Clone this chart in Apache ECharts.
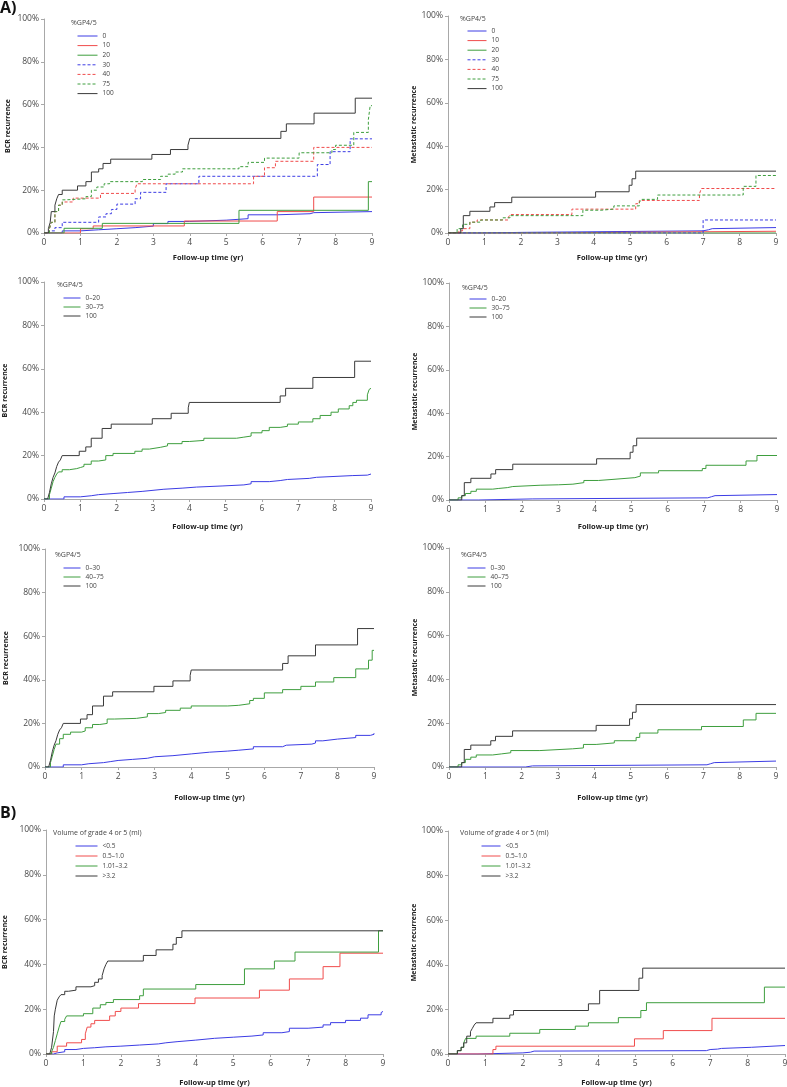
<!DOCTYPE html>
<html><head><meta charset="utf-8">
<script src="https://cdn.jsdelivr.net/npm/echarts@6/dist/echarts.min.js"></script>
<style>html,body{margin:0;padding:0;background:#fff}#c{width:787px;height:1087px}</style>
</head><body><div id="c"></div>
<script>
// ---------- DATA (time in years, cumulative % recurrence) ----------
const xTicks = [0,1,2,3,4,5,6,7,8,9];
const yTicks = [0,20,40,60,80,100];

// Panel A1: BCR by %GP4/5 (7 groups)
const a1_names = ['0','10','20','30','40','75','100'];
const a1_g0   = [[0,0],[0.5,1],[1.0,1.5],[1.5,2],[2.0,2.5],[2.5,3.2],[3.0,4.4],[3.4,5.4],[4.0,6],[5.0,6.7],[5.6,8.5],[6.4,9],[7.3,9.5],[7.4,10],[9,10]];
const a1_g10  = [[0,0],[1.0,2],[1.35,3.3],[3.85,5.6],[6.4,10],[7.4,16.8],[9,16.8]];
const a1_g20  = [[0,0],[0.55,2.2],[1.6,4.5],[5.35,10.6],[8.9,24],[9,24]];
const a1_g30  = [[0,0],[0.15,1],[0.3,2.5],[0.5,5],[1.5,7.5],[1.7,9],[1.85,11],[2.0,13.5],[2.5,16],[2.65,19],[3.35,23],[4.25,26.5],[7.5,32],[7.85,38],[8.4,44],[9,44]];
const a1_g40  = [[0,0],[0.15,2],[0.2,5],[0.3,10],[0.4,13],[0.5,14.5],[0.8,16.3],[1.55,18.5],[2.5,20.5],[2.55,23],[5.75,26.5],[6.05,30.5],[6.35,33.5],[7.4,40],[9,40]];
const a1_g75  = [[0,0],[0.15,2],[0.2,5],[0.3,10],[0.4,13],[0.5,15.5],[0.6,16],[1.15,17],[1.3,20],[1.45,21.5],[1.65,23],[1.8,24],[2.7,25],[3.2,26.5],[3.4,27.5],[3.6,28.5],[3.8,30],[5.35,31],[5.6,33],[6.05,35],[7.0,37.5],[7.9,39],[8.0,41],[8.5,47],[8.9,53],[8.95,59.5],[9,59.5]];
const a1_g100 = [[0,0],[0.12,2],[0.17,5],[0.2,10],[0.3,13],[0.35,16],[0.4,18],[0.5,20],[0.92,22],[1.15,24],[1.3,28.5],[1.5,30],[1.62,32.5],[1.83,34.5],[2.96,36.7],[3.47,39],[3.95,41],[4.0,44.2],[6.5,47.5],[6.65,51],[7.41,56],[8.54,63],[9,63]];

// Panel A2: Metastatic by %GP4/5 (7 groups)
const a2_g0   = [[0,0],[0.8,0.3],[2.1,1],[7.0,1.5],[7.15,2],[7.25,2.5],[9,2.5]];
const a2_g10  = [[0,0],[2.25,0.8],[9,0.8]];
const a2_g20  = [[0,0],[9,0]];
const a2_g30  = [[0,0],[7.0,6],[9,6]];
const a2_g40  = [[0,0],[0.3,1],[0.4,2],[0.6,5],[0.8,6],[1.65,7],[1.7,8.5],[3.4,11],[5.15,13.5],[5.25,15],[6.9,18],[6.95,20.5],[9,20.5]];
const a2_g75  = [[0,0],[0.25,2],[0.4,4],[0.6,5],[0.9,6],[1.5,7],[1.7,8],[3.7,10.5],[4.2,11],[4.55,12.5],[5.25,14],[5.3,15.5],[5.75,17.5],[8.1,21.5],[8.45,26.5],[9,26.5]];
const a2_g100 = [[0,0],[0.35,2],[0.42,8],[0.6,10],[1.15,12],[1.28,14],[1.75,16.5],[4.05,19],[4.97,22],[5.05,25],[5.15,28.5],[9,28.5]];

// Panel A3: BCR, 0–20 / 30–75 / 100
const a3_names = ['0\u201320','30\u201375','100'];
const a3_low  = [[0,0],[0.55,1],[1.0,1.5],[1.3,2],[1.5,2.5],[1.9,3],[2.3,3.5],[2.7,4],[3.0,4.5],[3.3,5],[3.8,5.5],[4.2,6],[4.9,6.5],[5.5,7],[5.7,8],[6.2,8.5],[6.5,9],[6.7,9.5],[7.3,10],[7.5,10.8],[8.5,11],[8.9,11.5],[9,11.5]];
const a3_mid  = [[0,0],[0.15,2],[0.2,5],[0.25,8],[0.3,10],[0.35,11.5],[0.4,12.5],[0.5,13.5],[0.7,14],[0.9,14.5],[1.0,15],[1.1,16],[1.3,17.5],[1.5,18],[1.7,20],[1.9,21],[2.5,22],[2.7,23],[2.9,23.8],[3.2,24.5],[3.4,25.5],[3.8,26.5],[4.0,27],[4.4,28],[5.3,28.5],[5.5,29],[5.7,30.5],[6.0,31.5],[6.2,33],[6.5,33.5],[6.7,34.5],[7.0,35.5],[7.4,37],[7.6,38.5],[7.9,40],[8.1,41.5],[8.4,43],[8.5,44.5],[8.6,45.5],[8.9,48],[8.95,50.5],[9,51]];
const a3_high = [[0,0],[0.1,0],[0.15,3],[0.2,7],[0.25,10],[0.3,12],[0.35,15],[0.4,17],[0.45,18],[0.5,20],[0.97,22],[1.15,24],[1.3,28],[1.6,32.5],[1.85,34.5],[2.98,37],[3.5,39.5],[3.97,42],[4.0,44.5],[6.5,47.5],[6.65,51],[7.4,56],[8.55,63.5],[9,63.5]];

// Panel A4: Metastatic, 0–20 / 30–75 / 100
const a4_low  = [[0,0],[0.8,0.5],[2.3,1],[7.1,1.5],[7.2,2],[7.3,2.5],[9,2.5]];
const a4_mid  = [[0,0],[0.25,1],[0.35,2],[0.45,3],[0.6,4],[0.75,5],[1.2,5.3],[1.35,5.7],[1.6,6.2],[1.75,6.8],[2.5,7],[3.0,7.3],[3.4,8],[3.7,9],[4.1,9.5],[4.5,10.3],[5.1,11],[5.25,12.5],[5.75,13.5],[6.95,14.5],[7.05,16],[8.15,18],[8.45,20.5],[9,20.5]];
const a4_high = [[0,0],[0.35,2],[0.42,8],[0.6,10],[1.15,12],[1.28,14],[1.75,16.5],[4.05,19],[4.97,22],[5.05,25],[5.15,28.5],[9,28.5]];

// Panel A5: BCR, 0–30 / 40–75 / 100
const a5_names = ['0\u201330','40\u201375','100'];
const a5_low  = [[0,0],[0.5,1],[1.0,1.5],[1.2,2],[1.6,2.5],[1.8,3],[2.0,3.5],[2.4,4],[2.8,4.7],[3.0,5.2],[3.5,6],[4.0,6.8],[4.5,7.3],[5.0,7.7],[5.3,8.3],[5.7,9.3],[6.5,10],[6.6,10.5],[7.3,11],[7.4,12],[7.6,12.8],[8.0,13.5],[8.5,14.5],[8.9,15],[9,15.5]];
const a5_mid  = [[0,0],[0.15,2],[0.2,5],[0.25,8],[0.3,10.5],[0.4,13],[0.5,15],[0.7,16],[1.0,16.5],[1.1,18],[1.3,19.5],[1.5,20],[1.7,22],[1.9,22.3],[2.5,23],[2.8,24.5],[3.1,25],[3.3,26],[3.7,27],[4.0,28],[5.0,28.3],[5.3,29],[5.6,30.5],[5.7,31.5],[6.0,34],[6.5,35.5],[7.0,37],[7.4,39],[7.9,41],[8.5,45],[8.85,49],[8.95,53.5],[9,53.5]];
const a5_high = [[0,0],[0.1,0],[0.15,3],[0.2,7],[0.25,10],[0.3,12],[0.35,15],[0.4,17],[0.45,18],[0.5,20],[0.97,22],[1.15,24],[1.3,28],[1.6,32.5],[1.85,34.5],[2.98,37],[3.5,39.5],[3.97,42],[4.0,44.5],[6.5,47.5],[6.65,51],[7.4,56],[8.55,63.5],[9,63.5]];

// Panel A6: Metastatic, 0–30 / 40–75 / 100
const a6_low  = [[0,0],[2.1,0.5],[2.3,1],[7.1,1.5],[7.2,2],[7.3,2.7],[9,2.7]];
const a6_mid  = [[0,0],[0.25,1],[0.35,2],[0.45,3.5],[0.6,4.5],[0.75,5.5],[1.2,6],[1.45,6.5],[1.7,7.5],[2.5,8.3],[3.4,8.7],[3.7,10.3],[4.05,11],[4.55,12],[5.15,13.5],[5.25,15.5],[5.75,17],[6.95,18.5],[8.1,21.5],[8.45,24.5],[9,24.5]];
const a6_high = [[0,0],[0.35,2],[0.42,8],[0.6,10],[1.15,12],[1.28,14],[1.75,16.5],[4.05,19],[4.97,22],[5.05,25],[5.15,28.5],[9,28.5]];

// Panel B1: BCR by volume of grade 4/5
const b_names = ['<0.5','0.5\u20131.0','1.01\u20133.2','>3.2'];
const b1_v1 = [[0,0],[0.1,0],[0.2,0.5],[0.3,1],[0.5,2],[0.8,2.5],[1.0,2.8],[1.3,3.2],[1.6,3.5],[2.0,4],[2.5,4.5],[3.0,5],[3.2,5.5],[3.5,6.2],[4.0,7],[4.5,7.5],[5.0,8],[5.5,8.5],[5.8,9.5],[6.3,10],[6.5,11.5],[7.0,12],[7.4,13],[7.6,14],[8.0,15],[8.4,16],[8.6,17.5],[8.95,18.5],[9,19]];
const b1_v2 = [[0,0],[0.15,1],[0.3,3.5],[0.55,5],[0.95,6.5],[1.05,9],[1.1,12],[1.2,13.5],[1.3,15],[1.7,17],[1.85,19],[2.0,20.5],[2.47,22.5],[3.98,25],[5.7,28.5],[6.5,33.5],[7.4,39],[7.85,45],[9,45]];
const b1_v3 = [[0,0],[0.15,1],[0.2,3],[0.25,6],[0.3,9],[0.35,12],[0.4,14.5],[0.5,15.5],[0.55,17],[1.0,18],[1.25,20.5],[1.45,22],[1.6,23],[1.8,24.3],[2.5,26],[2.6,29],[4.0,31],[5.3,38],[6.1,41.5],[6.65,45.5],[8.88,55],[9,55]];
const b1_v4 = [[0,0],[0.1,0],[0.15,3],[0.2,10],[0.22,17],[0.25,20],[0.3,24],[0.35,25.5],[0.4,26.5],[0.5,28],[0.6,28.5],[0.8,30],[1.2,30.5],[1.3,32],[1.4,33.5],[1.5,35],[1.55,38],[1.6,40],[1.65,41.5],[2.6,44],[2.94,46.5],[3.39,49],[3.48,52],[3.63,55],[9,55]];

// Panel B2: Metastatic by volume of grade 4/5
const b2_v1 = [[0,0],[0.8,0.5],[2.0,0.8],[2.2,1.3],[2.3,1.5],[6.9,2],[7.0,2.2],[7.2,2.5],[7.3,3],[8.1,3.5],[8.15,3.8],[9,3.8]];
const b2_v2 = [[0,0],[1.2,2],[1.28,3.5],[4.98,6.8],[5.75,10.5],[7.05,16],[9,16]];
const b2_v3 = [[0,0],[0.25,1.5],[0.35,3],[0.42,5],[0.47,7],[0.75,8],[1.65,9.3],[2.45,11],[3.4,12.5],[3.75,14],[4.55,16.3],[5.15,19.5],[5.3,23],[8.45,30],[9,30]];
const b2_v4 = [[0,0],[0.25,1.5],[0.35,3],[0.42,5],[0.5,8],[0.6,10],[0.65,11.5],[0.7,13],[0.75,14],[1.2,16],[1.65,17.5],[1.75,19.5],[3.75,22.5],[4.05,28.5],[5.1,34],[5.2,38.5],[9,38.5]];

// ---------- STYLE / LAYOUT ----------
const COL = {blue:'#3c3ce4', red:'#f04c4c', green:'#3e9e3e', black:'#3a3a3a'};
const FONT = 'Open Sans';
const panels = [
  {grid:{left:44,top:19,width:328,height:214}, yName:'BCR recurrence', yGap:33, xGap:21,
   lt:{text:'%GP4/5', x:71, y:19}, lg:{x:77, y:32.5, w:20, gap:2.6},
   series:[['0',a1_g0,'blue',0],['10',a1_g10,'red',0],['20',a1_g20,'green',0],['30',a1_g30,'blue',1],['40',a1_g40,'red',1],['75',a1_g75,'green',1],['100',a1_g100,'black',0]]},
  {grid:{left:448,top:16,width:328,height:217}, yName:'Metastatic recurrence', yGap:30, xGap:21,
   lt:{text:'%GP4/5', x:460, y:15}, lg:{x:467, y:27.5, w:19, gap:2.6},
   series:[['0',a2_g0,'blue',0],['10',a2_g10,'red',0],['20',a2_g20,'green',0],['30',a2_g30,'blue',1],['40',a2_g40,'red',1],['75',a2_g75,'green',1],['100',a2_g100,'black',0]]},
  {grid:{left:44,top:282,width:327,height:217}, yName:'BCR recurrence', yGap:36, xGap:24,
   lt:{text:'%GP4/5', x:57, y:281}, lg:{x:63, y:294.5, w:17, gap:2},
   series:[[a3_names[0],a3_low,'blue',0],[a3_names[1],a3_mid,'green',0],[a3_names[2],a3_high,'black',0]]},
  {grid:{left:449,top:283,width:328,height:217}, yName:'Metastatic recurrence', yGap:31, xGap:23,
   lt:{text:'%GP4/5', x:462, y:284}, lg:{x:469, y:295.5, w:17, gap:2},
   series:[[a3_names[0],a4_low,'blue',0],[a3_names[1],a4_mid,'green',0],[a3_names[2],a4_high,'black',0]]},
  {grid:{left:45,top:549,width:329,height:218}, yName:'BCR recurrence', yGap:36, xGap:27,
   lt:{text:'%GP4/5', x:55, y:551}, lg:{x:63, y:564.5, w:17, gap:2},
   series:[[a5_names[0],a5_low,'blue',0],[a5_names[1],a5_mid,'green',0],[a5_names[2],a5_high,'black',0]]},
  {grid:{left:449,top:548,width:327,height:219}, yName:'Metastatic recurrence', yGap:31, xGap:27,
   lt:{text:'%GP4/5', x:461, y:551}, lg:{x:467, y:564.5, w:18, gap:2},
   series:[[a5_names[0],a6_low,'blue',0],[a5_names[1],a6_mid,'green',0],[a5_names[2],a6_high,'black',0]]},
  {grid:{left:46,top:830,width:337,height:224}, yName:'BCR recurrence', yGap:38, xGap:25,
   lt:{text:'Volume of grade 4 or 5 (ml)', x:53, y:829}, lg:{x:75, y:842.5, w:22, gap:3},
   series:[[b_names[0],b1_v1,'blue',0],[b_names[1],b1_v2,'red',0],[b_names[2],b1_v3,'green',0],[b_names[3],b1_v4,'black',0]]},
  {grid:{left:448,top:831,width:337,height:223}, yName:'Metastatic recurrence', yGap:30, xGap:25,
   lt:{text:'Volume of grade 4 or 5 (ml)', x:460, y:829}, lg:{x:481, y:842.5, w:19, gap:3},
   series:[[b_names[0],b2_v1,'blue',0],[b_names[1],b2_v2,'red',0],[b_names[2],b2_v3,'green',0],[b_names[3],b2_v4,'black',0]]}
];

const axisGray = '#a8a8a8';
const option = {
  animation:false,
  backgroundColor:'#fff',
  textStyle:{fontFamily:FONT},
  title:[
    {text:'A)', left:0, top:0, padding:0, textStyle:{fontSize:16, fontWeight:'bold', color:'#111', fontFamily:FONT, lineHeight:16}},
    {text:'B)', left:0, top:805, padding:0, textStyle:{fontSize:16, fontWeight:'bold', color:'#111', fontFamily:FONT, lineHeight:16}}
  ],
  grid:[], xAxis:[], yAxis:[], legend:[], series:[]
};

panels.forEach((p,i)=>{
  option.grid.push(Object.assign({containLabel:false, outerBoundsMode:'none'}, p.grid));
  option.xAxis.push({
    type:'value', gridIndex:i, min:xTicks[0], max:xTicks[xTicks.length-1], interval:1,
    axisLine:{show:true, onZero:false, lineStyle:{color:axisGray, width:1}},
    axisTick:{show:true, length:3, lineStyle:{color:axisGray}},
    axisLabel:{fontSize:8.5, color:'#4a4a4a', margin:5, fontFamily:FONT},
    splitLine:{show:false},
    name:'Follow-up time (yr)', nameLocation:'middle', nameGap:p.xGap,
    nameTextStyle:{fontSize:7.5, fontWeight:'bold', color:'#222', fontFamily:FONT}
  });
  option.yAxis.push({
    type:'value', gridIndex:i, min:yTicks[0], max:yTicks[yTicks.length-1], interval:20,
    axisLine:{show:true, lineStyle:{color:axisGray, width:1}},
    axisTick:{show:true, length:3, lineStyle:{color:axisGray}},
    axisLabel:{formatter:'{value}%', fontSize:8.5, color:'#4a4a4a', margin:5, fontFamily:FONT},
    splitLine:{show:false},
    name:p.yName, nameLocation:'middle', nameGap:p.yGap, nameRotate:90,
    nameTextStyle:{fontSize:7, fontWeight:'bold', color:'#222', fontFamily:FONT}
  });
  option.title.push({text:p.lt.text, left:p.lt.x, top:p.lt.y, padding:0,
    textStyle:{fontSize:7, fontWeight:'normal', color:'#444', fontFamily:FONT}});
  option.legend.push({
    orient:'vertical', left:p.lg.x, top:p.lg.y, padding:0,
    itemWidth:p.lg.w, itemHeight:7, itemGap:p.lg.gap, selectedMode:false,
    data:p.series.map(s=>s[0]),
    itemStyle:{opacity:0}, lineStyle:{width:1},
    textStyle:{fontSize:6.5, color:'#444', lineHeight:7, fontFamily:FONT}
  });
  p.series.forEach(s=>{
    option.series.push({
      type:'line', name:s[0], xAxisIndex:i, yAxisIndex:i, data:s[1], step:'end',
      symbol:'none', showSymbol:false, silent:true,
      lineStyle:{width:1, color:COL[s[2]], type:s[3]?[3,2]:'solid'},
      itemStyle:{color:COL[s[2]]}
    });
  });
});

const chart = echarts.init(document.getElementById('c'), null, {renderer:'canvas'});
chart.setOption(option);
</script></body></html>
